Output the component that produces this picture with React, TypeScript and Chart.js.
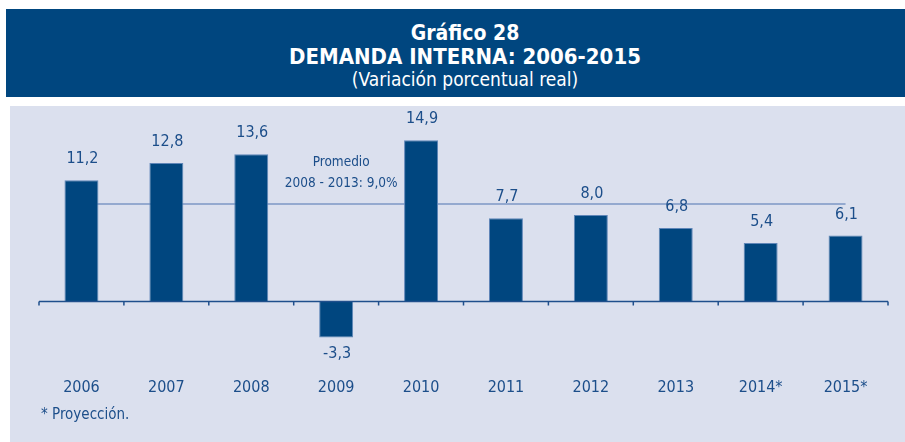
import React, { useEffect, useRef } from "react";
import { Chart, registerables } from "chart.js";

Chart.register(...registerables);

const categories = ["2006", "2007", "2008", "2009", "2010", "2011", "2012", "2013", "2014*", "2015*"];
const demandValues = [11.2, 12.8, 13.6, -3.3, 14.9, 7.7, 8.0, 6.8, 5.4, 6.1];
const averageValues = [9.0, 9.0, 9.0, 9.0, 9.0, 9.0, 9.0, 9.0, 9.0, 9.0];
const averageLabel = ["Promedio", "2008 - 2013: 9,0%"];

const FONT = '"DejaVu Sans Condensed", "DejaVu Sans", sans-serif';
const TEXT_BLUE = "#1c4e8a";
const BAR_BLUE = "#00467f";

const overlayPlugin = {
  id: "overlay",
  afterDatasetsDraw(chart: any) {
    const { ctx, chartArea } = chart;
    const xs = chart.scales.x;
    const ys = chart.scales.y;
    const y0 = ys.getPixelForValue(0);
    ctx.save();
    ctx.strokeStyle = "#1f4f8c";
    ctx.lineWidth = 1.5;
    ctx.beginPath();
    ctx.moveTo(chartArea.left, y0);
    ctx.lineTo(chartArea.right, y0);
    const n = categories.length;
    for (let i = 0; i <= n; i++) {
      let x;
      if (i === 0) x = chartArea.left;
      else if (i === n) x = chartArea.right;
      else x = (xs.getPixelForValue(i - 1) + xs.getPixelForValue(i)) / 2;
      ctx.moveTo(x, y0);
      ctx.lineTo(x, y0 + 4);
    }
    ctx.stroke();

    const meta = chart.getDatasetMeta(0);
    ctx.fillStyle = TEXT_BLUE;
    ctx.font = `16px ${FONT}`;
    ctx.textAlign = "center";
    ctx.textBaseline = "middle";
    meta.data.forEach((el: any, i: number) => {
      const v = demandValues[i];
      const txt = v.toFixed(1).replace(".", ",");
      const y = v >= 0 ? el.y - 21 : el.y + 16;
      ctx.fillText(txt, el.x + 1, y);
    });

    ctx.font = `13.5px ${FONT}`;
    const lx = xs.getPixelForValue(3) + 5;
    ctx.fillText(averageLabel[0], lx, ys.getPixelForValue(12.8));
    ctx.fillText(averageLabel[1], lx, ys.getPixelForValue(10.9));
    ctx.restore();
  },
};

export default function App() {
  const ref = useRef<HTMLCanvasElement>(null);
  useEffect(() => {
    if (!ref.current) return;
    const chart = new Chart(ref.current, {
      type: "bar",
      data: {
        labels: categories,
        datasets: [
          {
            type: "bar",
            data: demandValues,
            backgroundColor: BAR_BLUE,
            borderColor: "#5f86b8",
            borderWidth: 1,
            barPercentage: 0.4,
            categoryPercentage: 1,
            order: 0,
          } as any,
          {
            type: "line",
            data: averageValues,
            borderColor: "#7d97c4",
            borderWidth: 1.5,
            pointRadius: 0,
            fill: false,
            order: 1,
          } as any,
        ],
      },
      options: {
        animation: false,
        responsive: false,
        maintainAspectRatio: false,
        events: [],
        layout: { padding: { top: 117.4, left: 39, right: 17, bottom: 31 } },
        plugins: { legend: { display: false }, tooltip: { enabled: false }, title: { display: false } },
        scales: {
          x: {
            grid: { display: false },
            border: { display: false },
            ticks: {
              color: TEXT_BLUE,
              font: { family: FONT, size: 16 },
              padding: 14,
              maxRotation: 0,
            },
          },
          y: {
            display: false,
            min: -5,
            max: 17,
          },
        },
      },
      plugins: [overlayPlugin],
    });
    return () => chart.destroy();
  }, []);

  const cond: any = { fontFamily: FONT };
  return (
    <div style={{ position: "absolute", left: 0, top: 0, width: 905, height: 442, overflow: "hidden", background: "#ffffff" }}>
      <div style={{ position: "absolute", left: 6, top: 9, width: 899, height: 88, background: "#00467f" }} />
      <div style={{ position: "absolute", left: 10, top: 106, width: 895, height: 336, background: "#dbe0ee" }} />
      <div style={{ position: "absolute", left: 0, top: 9, width: 930, textAlign: "center", color: "#ffffff", ...cond }}>
        <div style={{ position: "absolute", left: 0, top: 11, width: 930, fontSize: 21, fontWeight: "bold", lineHeight: "26px" }}>Gráfico 28</div>
        <div style={{ position: "absolute", left: 0, top: 34, width: 930, fontSize: 22, fontWeight: "bold", lineHeight: "28px" }}>DEMANDA INTERNA: 2006-2015</div>
        <div style={{ position: "absolute", left: 0, top: 58, width: 930, fontSize: 19, lineHeight: "24px" }}>(Variación porcentual real)</div>
      </div>
      <canvas ref={ref} width={905} height={442} style={{ position: "absolute", left: 0, top: 0, width: 905, height: 442 }} />
      <div style={{ position: "absolute", left: 41, top: 404, fontSize: 15, lineHeight: "20px", color: TEXT_BLUE, ...cond }}>* Proyección.</div>
    </div>
  );
}
